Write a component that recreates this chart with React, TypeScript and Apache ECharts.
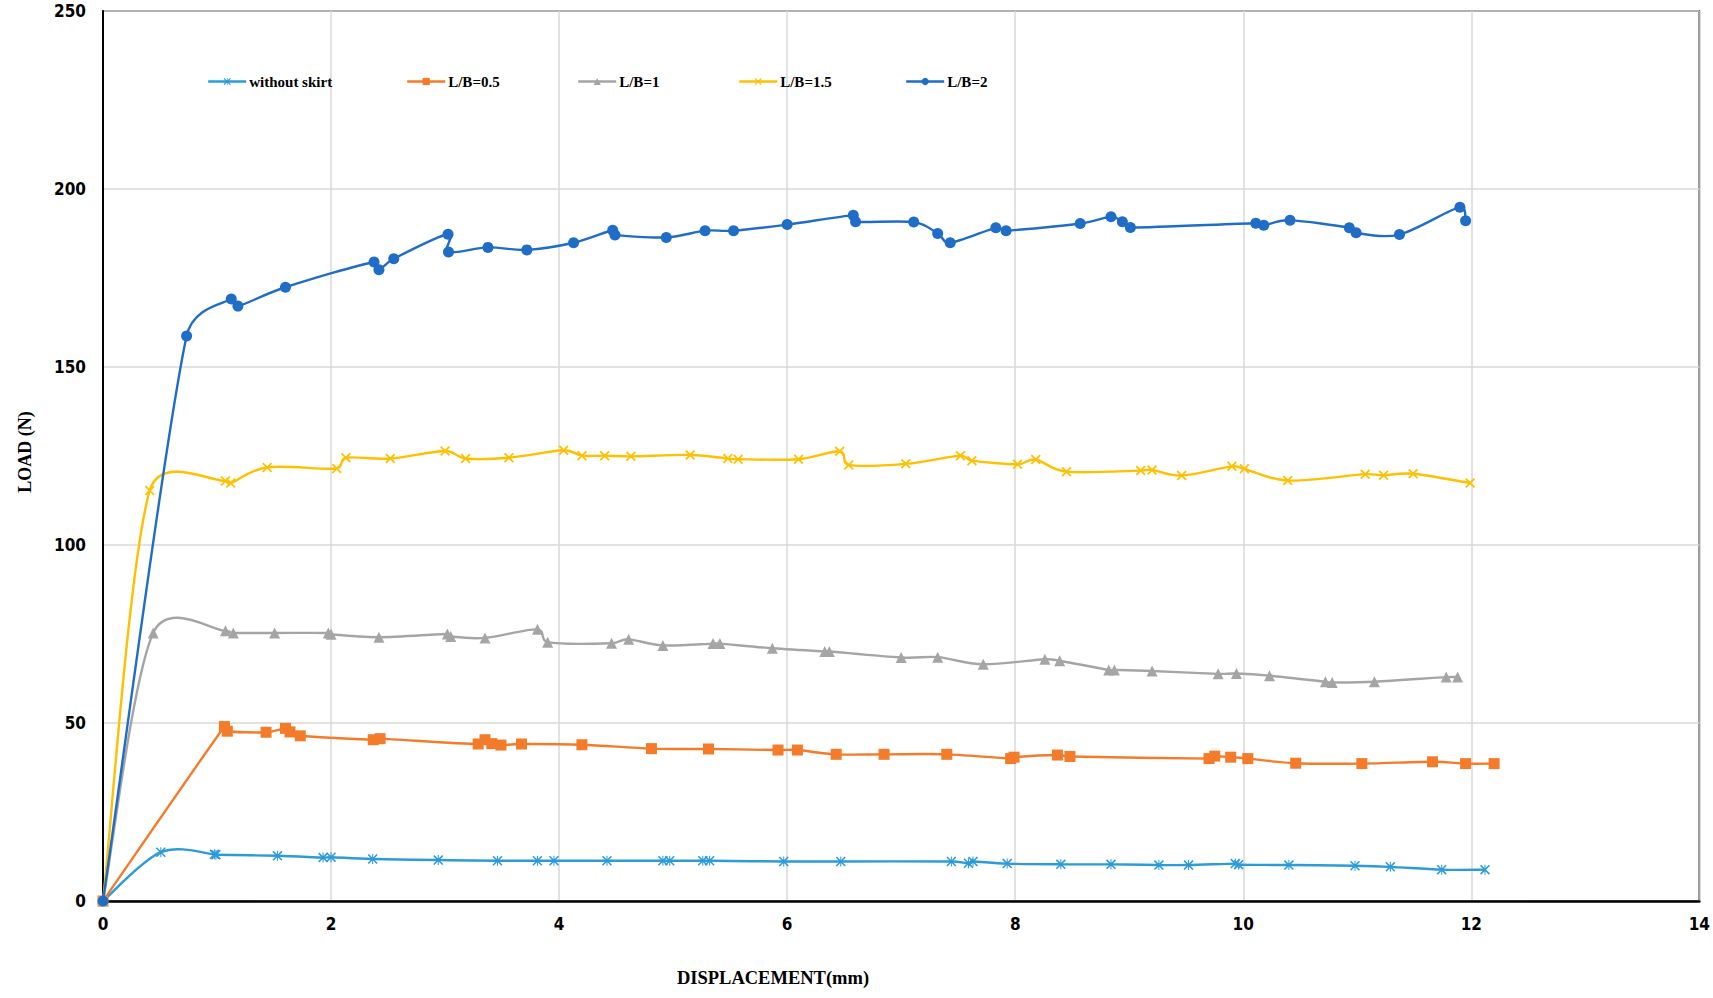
import React, { useEffect, useRef } from "react";
import * as echarts from "echarts";

// ---- data ----
const seriesNames = ["without skirt", "L/B=0.5", "L/B=1", "L/B=1.5", "L/B=2"];

const withoutSkirtX = [0, 0.507, 0.977, 0.99, 1.53, 1.93, 2.0, 2.365, 2.94, 3.46, 3.81, 3.955, 4.42, 4.91, 4.97, 5.26, 5.32, 5.97, 6.47, 7.44, 7.59, 7.63, 7.93, 8.4, 8.84, 9.26, 9.52, 9.93, 9.96, 10.4, 10.98, 11.29, 11.74, 12.12];
const withoutSkirtY = [0, 13.7, 13.1, 13.0, 12.7, 12.2, 12.3, 11.8, 11.5, 11.3, 11.3, 11.3, 11.3, 11.3, 11.3, 11.3, 11.3, 11.1, 11.1, 11.1, 10.6, 11.1, 10.5, 10.3, 10.3, 10.1, 10.1, 10.5, 10.2, 10.1, 9.9, 9.6, 8.8, 8.8];

const lb05X = [0, 1.065, 1.09, 1.43, 1.6, 1.64, 1.73, 2.37, 2.43, 3.29, 3.35, 3.41, 3.49, 3.67, 4.2, 4.81, 5.31, 5.92, 6.09, 6.43, 6.85, 7.4, 7.96, 7.99, 8.37, 8.48, 9.7, 9.75, 9.89, 10.04, 10.46, 11.04, 11.66, 11.95, 12.2];
const lb05Y = [0, 49.0, 47.7, 47.4, 48.5, 47.5, 46.4, 45.3, 45.6, 44.1, 45.3, 44.2, 43.8, 44.1, 43.9, 42.8, 42.7, 42.4, 42.4, 41.2, 41.2, 41.2, 40.0, 40.4, 41.0, 40.6, 40.0, 40.7, 40.4, 40.0, 38.7, 38.6, 39.1, 38.6, 38.6];

const lb1X = [0, 0.44, 1.074, 1.143, 1.505, 1.976, 2.0, 2.42, 3.02, 3.05, 3.35, 3.81, 3.9, 4.46, 4.61, 4.91, 5.35, 5.41, 5.87, 6.33, 6.37, 7.0, 7.32, 7.72, 8.26, 8.39, 8.82, 8.87, 9.2, 9.78, 9.94, 10.23, 10.72, 10.78, 11.15, 11.78, 11.88];
const lb1Y = [0, 75.3, 75.9, 75.3, 75.3, 75.3, 74.9, 74.1, 75.0, 74.3, 73.9, 76.3, 72.7, 72.4, 73.5, 71.8, 72.3, 72.3, 71.0, 70.1, 70.1, 68.4, 68.5, 66.5, 67.9, 67.5, 64.9, 64.9, 64.6, 63.8, 63.9, 63.3, 61.6, 61.4, 61.6, 62.9, 62.9];

const lb15X = [0, 0.41, 1.074, 1.12, 1.44, 2.05, 2.13, 2.52, 3.0, 3.18, 3.56, 4.04, 4.2, 4.4, 4.63, 5.15, 5.48, 5.57, 6.1, 6.46, 6.54, 7.04, 7.52, 7.62, 8.02, 8.18, 8.45, 9.1, 9.2, 9.46, 9.9, 10.01, 10.39, 11.07, 11.23, 11.49, 11.99];
const lb15Y = [0, 115.3, 118.0, 117.4, 121.8, 121.5, 124.5, 124.3, 126.4, 124.3, 124.5, 126.6, 125.1, 125.1, 124.9, 125.3, 124.3, 124.1, 124.1, 126.3, 122.5, 122.8, 125.1, 123.7, 122.7, 124.0, 120.6, 120.9, 121.1, 119.5, 122.1, 121.4, 118.1, 119.9, 119.6, 120.0, 117.4];

const lb2X = [0, 0.733, 1.125, 1.183, 1.6, 2.377, 2.42, 2.55, 3.026, 3.03, 3.376, 3.717, 4.127, 4.47, 4.49, 4.94, 5.28, 5.53, 6.0, 6.58, 6.6, 7.11, 7.32, 7.43, 7.83, 7.92, 8.57, 8.84, 8.94, 9.01, 10.11, 10.18, 10.41, 10.93, 10.99, 11.37, 11.9, 11.95];
const lb2Y = [0, 158.7, 169.1, 167.1, 172.4, 179.5, 177.3, 180.4, 187.3, 182.3, 183.6, 182.9, 184.9, 188.4, 187.1, 186.4, 188.3, 188.3, 190.0, 192.6, 190.8, 190.7, 187.5, 184.9, 189.1, 188.3, 190.3, 192.2, 190.8, 189.2, 190.4, 189.8, 191.2, 189.1, 187.7, 187.2, 194.9, 191.1];

const xTicks = { min: 0, max: 14, interval: 2 };
const yTicks = { min: 0, max: 250, interval: 50 };

// ---- styling ----
const colors = ["#2B9BD9", "#F47B2A", "#A5A5A5", "#FFC000", "#1F6DC6"];
const asteriskPath =
  "path://M9 0H11V20H9Z M0 2.2L2.2 0L20 17.8L17.8 20Z M17.8 0L20 2.2L2.2 20L0 17.8Z";
const xMarkPath = "path://M0 2.5L2.5 0L20 17.5L17.5 20Z M17.5 0L20 2.5L2.5 20L0 17.5Z";
const symbols = [asteriskPath, "rect", "triangle", xMarkPath, "circle"];
const symbolSizes = [10, 11, 11, 10, 11];
const legendLefts = [207, 406, 577, 738, 905];
const lineWidth = 2.4;
const tension = 1 / 6;

const serifFont = "'Liberation Serif', 'Times New Roman', serif";
const tickFont = "'Liberation Sans Narrow', 'DejaVu Sans Condensed', 'Liberation Sans', sans-serif";

function pairs(xs: number[], ys: number[]) {
  return xs.map((x, i) => [x, ys[i]]);
}

// Spreadsheet-style smoothed segment between data points i and i+1 (positions from the axes)
function makeRenderItem(pts: number[][], color: string) {
  return (params: any, api: any) => {
    const i = params.dataIndex;
    if (i >= pts.length - 1) return null;
    const c = (k: number) => api.coord(pts[Math.max(0, Math.min(pts.length - 1, k))]);
    const p0 = c(i - 1);
    const p1 = c(i);
    const p2 = c(i + 1);
    const p3 = c(i + 2);
    const d = (a: number[], b: number[]) => Math.hypot(a[0] - b[0], a[1] - b[1]);
    const d12 = d(p1, p2);
    const d02 = d(p0, p2);
    const d13 = d(p1, p3);
    const f0 = d02 > 0 && d02 * tension > d12 / 2 ? d12 / (2 * d02) : tension;
    const f1 = d13 > 0 && d13 * tension > d12 / 2 ? d12 / (2 * d13) : tension;
    const cp1 = [p1[0] + (p2[0] - p0[0]) * f0, p1[1] + (p2[1] - p0[1]) * f0];
    const cp2 = [p2[0] - (p3[0] - p1[0]) * f1, p2[1] - (p3[1] - p1[1]) * f1];
    return {
      type: "bezierCurve",
      shape: {
        x1: p1[0],
        y1: p1[1],
        x2: p2[0],
        y2: p2[1],
        cpx1: cp1[0],
        cpy1: cp1[1],
        cpx2: cp2[0],
        cpy2: cp2[1],
      },
      style: { stroke: color, lineWidth, fill: "none", lineCap: "round" },
      silent: true,
    };
  };
}

export default function App() {
  const ref = useRef<HTMLDivElement>(null);

  useEffect(() => {
    document.body.style.margin = "0";
    if (!ref.current) return;
    const chart = echarts.init(ref.current, undefined, { renderer: "svg" });
    const allData = [
      pairs(withoutSkirtX, withoutSkirtY),
      pairs(lb05X, lb05Y),
      pairs(lb1X, lb1Y),
      pairs(lb15X, lb15Y),
      pairs(lb2X, lb2Y),
    ];
    const axisLabel = {
      fontFamily: tickFont,
      fontWeight: "bold" as const,
      fontSize: 17,
      color: "#000",
    };
    const curveSeries = seriesNames.map((n, i) => ({
      name: n + " curve",
      type: "custom",
      data: allData[i],
      encode: { x: 0, y: 1 },
      renderItem: makeRenderItem(allData[i], colors[i]),
      silent: true,
      z: 2 + i * 2,
    }));
    const markerSeries = seriesNames.map((n, i) => ({
      name: n,
      type: "line",
      data: allData[i],
      symbol: symbols[i],
      symbolSize: symbolSizes[i],
      showSymbol: true,
      showAllSymbol: true,
      clip: false,
      lineStyle: { color: colors[i], width: lineWidth, opacity: 0 },
      itemStyle: { color: colors[i] },
      z: 3 + i * 2,
    }));
    chart.setOption({
      animation: false,
      backgroundColor: "#fff",
      grid: {
        left: 103,
        right: 12,
        top: 11,
        bottom: 97,
        show: true,
        borderColor: "#000",
        borderWidth: 1.5,
        containLabel: false,
      },
      legend: seriesNames.map((n, i) => ({
        data: [n],
        left: legendLefts[i],
        top: 74,
        itemWidth: 38,
        itemHeight: 9,
        itemGap: 0,
        padding: 0,
        lineStyle: { width: lineWidth, opacity: 1, color: colors[i] },
        textStyle: {
          fontFamily: serifFont,
          fontWeight: "bold",
          fontSize: 15,
          color: "#000",
          padding: [0, 0, 0, -2],
        },
      })),
      xAxis: {
        type: "value",
        min: xTicks.min,
        max: xTicks.max,
        interval: xTicks.interval,
        axisLine: { show: true, onZero: false, lineStyle: { color: "#000", width: 2.5 } },
        axisTick: { show: false },
        splitLine: { show: true, lineStyle: { color: "#D9D9D9", width: 1.5 } },
        axisLabel: { ...axisLabel, margin: 14 },
      },
      yAxis: {
        type: "value",
        min: yTicks.min,
        max: yTicks.max,
        interval: yTicks.interval,
        axisLine: { show: true, onZero: false, lineStyle: { color: "#000", width: 2 } },
        axisTick: { show: false },
        splitLine: { show: true, lineStyle: { color: "#D9D9D9", width: 1.5 } },
        axisLabel: { ...axisLabel, margin: 17 },
      },
      graphic: [
        {
          type: "text",
          x: 773,
          y: 978,
          style: {
            text: "DISPLACEMENT(mm)",
            font: `bold 18.5px ${serifFont}`,
            fill: "#000",
            textAlign: "center",
            textVerticalAlign: "middle",
          },
        },
        {
          type: "text",
          x: 25,
          y: 452,
          rotation: Math.PI / 2,
          style: {
            text: "LOAD (N)",
            font: `bold 18px ${serifFont}`,
            fill: "#000",
            textAlign: "center",
            textVerticalAlign: "middle",
          },
        },
      ],
      series: [...curveSeries, ...markerSeries],
    });
    return () => chart.dispose();
  }, []);

  return <div ref={ref} style={{ width: 1713, height: 998 }} />;
}
